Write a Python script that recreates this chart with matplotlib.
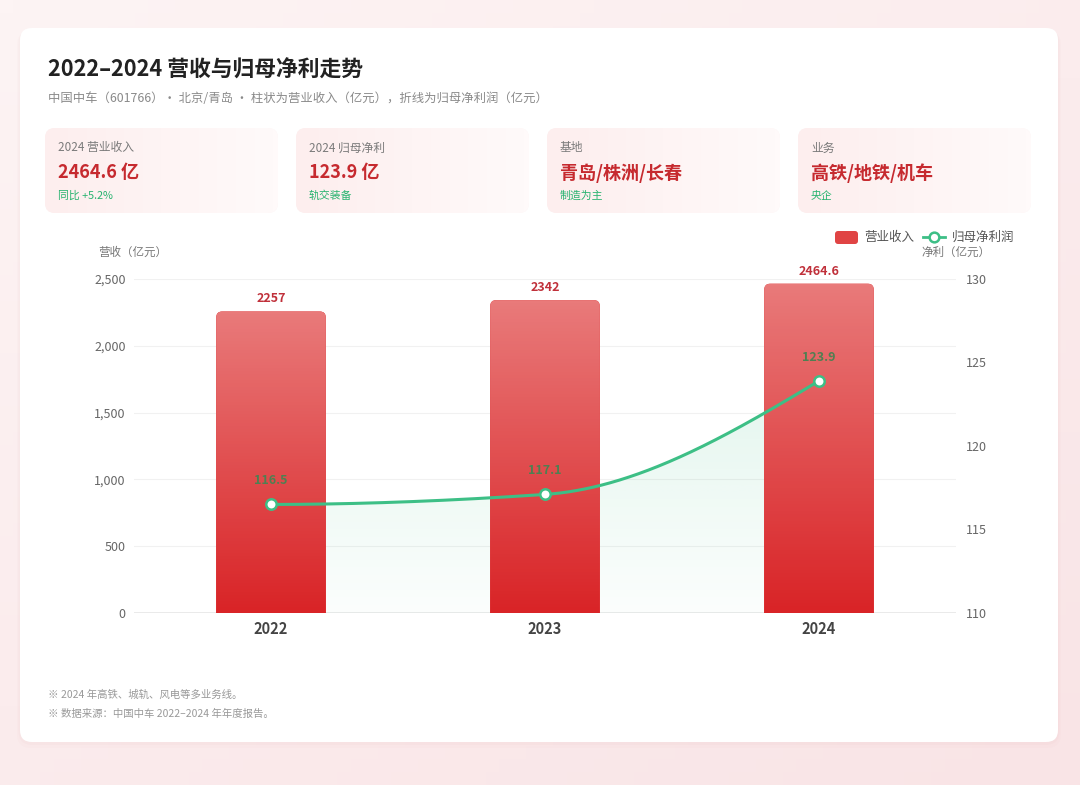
import numpy as np
import matplotlib
matplotlib.use("Agg")
import matplotlib.pyplot as plt
from matplotlib.patches import FancyBboxPatch, Polygon
from matplotlib.lines import Line2D
from matplotlib.colors import LinearSegmentedColormap

plt.rcParams["font.family"] = ["Noto Sans CJK SC", "DejaVu Sans"]

# ---------------------------------------------------------------------------
# Data
# ---------------------------------------------------------------------------
years = ["2022", "2023", "2024"]
revenue = [2257, 2342, 2464.6]          # 营业收入（亿元）
revenue_labels = ["2257", "2342", "2464.6"]
profit = [116.5, 117.1, 123.9]          # 归母净利润（亿元）
profit_labels = ["116.5", "117.1", "123.9"]

left_ticks = [0, 500, 1000, 1500, 2000, 2500]
right_ticks = [110, 115, 120, 125, 130]

card_titles = ["2024 营业收入", "2024 归母净利", "基地", "业务"]
card_values = ["2464.6 亿", "123.9 亿", "青岛/株洲/长春", "高铁/地铁/机车"]
card_notes = ["同比 +5.2%", "轨交装备", "制造为主", "央企"]

TITLE = "2022–2024 营收与归母净利走势"
SUBTITLE = "中国中车（601766）· 北京/青岛 · 柱状为营业收入（亿元），折线为归母净利润（亿元）"
FOOTNOTES = ["※ 2024 年高铁、城轨、风电等多业务线。",
             "※ 数据来源：中国中车 2022–2024 年年度报告。"]

# ---------------------------------------------------------------------------
# Style
# ---------------------------------------------------------------------------
W, H = 1080, 785
RED_TOP = "#e97a7a"
RED_BOT = "#d92427"
RED_TXT = "#c62a2f"
GREEN = "#3dbf86"
GREEN_TXT = "#27b36f"
GREY = "#666666"


def pchip(x, y, n=200):
    """Monotone cubic through the points (rendering of a smooth line)."""
    x = np.asarray(x, float)
    y = np.asarray(y, float)
    h = np.diff(x)
    d = np.diff(y) / h
    m = np.zeros_like(y)
    for k in range(1, len(y) - 1):
        if d[k - 1] * d[k] > 0:
            w1 = 2 * h[k] + h[k - 1]
            w2 = h[k] + 2 * h[k - 1]
            m[k] = (w1 + w2) / (w1 / d[k - 1] + w2 / d[k])

    def end(h0, h1, d0, d1):
        s = ((2 * h0 + h1) * d0 - h0 * d1) / (h0 + h1)
        if np.sign(s) != np.sign(d0):
            return 0.0
        if np.sign(d0) != np.sign(d1) and abs(s) > abs(3 * d0):
            return 3 * d0
        return s

    m[0] = end(h[0], h[1], d[0], d[1])
    m[-1] = end(h[-1], h[-2], d[-1], d[-2])
    xs, ys = [], []
    for k in range(len(h)):
        t = np.linspace(0, 1, n)
        h00 = 2 * t**3 - 3 * t**2 + 1
        h10 = t**3 - 2 * t**2 + t
        h01 = -2 * t**3 + 3 * t**2
        h11 = t**3 - t**2
        xs.append(x[k] + t * h[k])
        ys.append(h00 * y[k] + h10 * h[k] * m[k] + h01 * y[k + 1] + h11 * h[k] * m[k + 1])
    return np.concatenate(xs), np.concatenate(ys)


fig = plt.figure(figsize=(W / 100, H / 100), dpi=100)

# background in pixel coordinates
bg = fig.add_axes([0, 0, 1, 1], zorder=0)
bg.set_xlim(0, W)
bg.set_ylim(H, 0)
bg.axis("off")
gy, gx = np.mgrid[0:1:60j, 0:1:80j]
mix = np.clip(0.55 * gy + 0.45 * gx, 0, 1)[..., None]
c0 = np.array([253, 244, 244]) / 255
c1 = np.array([249, 228, 230]) / 255
bg.imshow(c0 * (1 - mix) + c1 * mix, extent=(0, W, H, 0), aspect="auto", zorder=0)

# main card with soft shadow
for off, a in [(6, 0.025), (3, 0.035)]:
    bg.add_patch(FancyBboxPatch((20 - off / 2, 28 + off / 2), 1038 + off, 714 + off / 2,
                                boxstyle="round,pad=0,rounding_size=14",
                                fc="#d08080", ec="none", alpha=a, zorder=1))
bg.add_patch(FancyBboxPatch((20, 28), 1038, 714, boxstyle="round,pad=0,rounding_size=12",
                            fc="white", ec="none", zorder=2))

fig.text(48 / W, 1 - 70 / H, TITLE, fontsize=15.7, fontweight="bold", color="#222222",
         va="center", ha="left")
fig.text(48 / W, 1 - 99 / H, SUBTITLE, fontsize=8.9, color="#8a8a8a", va="center", ha="left")

# stat cards
card_x = [45, 296, 547, 798]
card_w = 233
card_cmap = LinearSegmentedColormap.from_list("card", ["#fdeeee", "#fffafa"])
for cx, t, v, n in zip(card_x, card_titles, card_values, card_notes):
    p = FancyBboxPatch((cx, 128), card_w, 85, boxstyle="round,pad=0,rounding_size=10",
                       fc="#fef4f4", ec="none", zorder=3)
    bg.add_patch(p)
    im = bg.imshow(np.linspace(0, 1, 50)[None, :], cmap=card_cmap,
                   extent=(cx, cx + card_w, 213, 128), aspect="auto", zorder=3.1)
    im.set_clip_path(p)
    fig.text((cx + 13) / W, 1 - 148 / H, t, fontsize=8.5, color="#7a7a7a", va="center")
    fig.text((cx + 13) / W, 1 - 173 / H, v, fontsize=13, fontweight="bold", color=RED_TXT,
             va="center")
    fig.text((cx + 13) / W, 1 - 196 / H, n, fontsize=7.8, color=GREEN_TXT, va="center")

# legend (drawn in pixel space)
bg.add_patch(FancyBboxPatch((835, 231), 23, 13, boxstyle="round,pad=0,rounding_size=3",
                            fc="#e04444", ec="none", zorder=3))
fig.text(864 / W, 1 - 237 / H, "营业收入", fontsize=9, color="#555555", va="center")
bg.add_line(Line2D([923, 945], [237, 237], color=GREEN, lw=2, zorder=3))
bg.add_line(Line2D([934], [237], marker="o", ms=7, mfc="white", mec=GREEN, mew=1.8, zorder=4))
fig.text(952 / W, 1 - 237 / H, "归母净利润", fontsize=9, color="#555555", va="center")

fig.text(98 / W, 1 - 252 / H, "营收（亿元）", fontsize=8.3, color="#777777", va="center")
fig.text(921 / W, 1 - 252 / H, "净利（亿元）", fontsize=8.3, color="#777777", va="center")

for i, line in enumerate(FOOTNOTES):
    fig.text(48 / W, 1 - (695 + 19 * i) / H, line, fontsize=7.5, color="#999999", va="center")

# ---------------------------------------------------------------------------
# Chart
# ---------------------------------------------------------------------------
ax = fig.add_axes([134 / W, (H - 613) / H, 822 / W, 334 / H], zorder=5)
ax.patch.set_alpha(0)
xpos = np.arange(len(years))
XLIM = (-0.5, len(years) - 0.5)
YLIM = (0, 2500)
Y2LIM = (110, 130)

for s in ax.spines.values():
    s.set_visible(False)
ax.set_yticks(left_ticks)
ax.set_yticklabels([f"{t:,}" for t in left_ticks])
ax.tick_params(axis="y", length=0, pad=6, labelsize=9, labelcolor=GREY)
ax.set_xticks(xpos)
ax.set_xticklabels(years, fontsize=10.5, fontweight="bold", color="#444444")
ax.tick_params(axis="x", length=0, pad=6)
for t in left_ticks[1:]:
    ax.axhline(t, color="#f1f1f1", lw=0.8, zorder=0)
ax.axhline(0, color="#e6e6e6", lw=1.2, zorder=0)

# gradient area under the profit line, drawn below the bars
sx, sy = pchip(xpos, profit)
to_left = lambda v: (np.asarray(v) - Y2LIM[0]) / (Y2LIM[1] - Y2LIM[0]) * (YLIM[1] - YLIM[0])
sy_left = to_left(sy)
poly = Polygon(np.column_stack([np.r_[sx, sx[-1], sx[0]], np.r_[sy_left, 0, 0]]),
               closed=True, fc="none", ec="none")
ax.add_patch(poly)
grad = np.zeros((100, 1, 4))
grad[..., 0:3] = np.array([61, 191, 134]) / 255
grad[:, 0, 3] = np.linspace(0.02, 0.14, 100)
fill = ax.imshow(grad, origin="lower", extent=(sx[0], sx[-1], 0, sy_left.max()),
                 aspect="auto", zorder=1)
fill.set_clip_path(poly)

bar_w = 0.4
px_x = (XLIM[1] - XLIM[0]) / 822
px_y = (YLIM[1] - YLIM[0]) / 334
bar_cmap = LinearSegmentedColormap.from_list("bar", [RED_BOT, RED_TOP])
for x, v, lab in zip(xpos, revenue, revenue_labels):
    patch = FancyBboxPatch((x - bar_w / 2, -200), bar_w, v + 200,
                           boxstyle=f"round,pad=0,rounding_size={6 * px_x}",
                           mutation_aspect=px_y / px_x, fc=RED_BOT, ec="none", zorder=2)
    ax.add_patch(patch)
    im = ax.imshow(np.linspace(0, 1, 100)[:, None], cmap=bar_cmap, origin="lower",
                   extent=(x - bar_w / 2, x + bar_w / 2, 0, v), aspect="auto", zorder=2.1)
    im.set_clip_path(patch)
    ax.annotate(lab, (x, v), xytext=(0, 9), textcoords="offset points", ha="center",
                va="center", fontsize=9, fontweight="bold", color="#c0303a", zorder=6)

ax.set_xlim(*XLIM)
ax.set_ylim(*YLIM)

ax2 = ax.twinx()
ax2.set_zorder(6)
ax2.patch.set_alpha(0)
for s in ax2.spines.values():
    s.set_visible(False)
ax2.set_yticks(right_ticks)
ax2.tick_params(axis="y", length=0, pad=7, labelsize=9, labelcolor=GREY)

ax2.plot(sx, sy, color=GREEN, lw=2.2, zorder=3, solid_capstyle="round")
ax2.plot(xpos, profit, ls="none", marker="o", ms=7.5, mfc="white", mec=GREEN, mew=1.8,
         zorder=4)
for x, v, lab in zip(xpos, profit, profit_labels):
    ax2.annotate(lab, (x, v), xytext=(0, 17), textcoords="offset points", ha="center",
                 va="center", fontsize=9, fontweight="bold", color="#4f7f52", zorder=6)
ax2.set_xlim(*XLIM)
ax2.set_ylim(*Y2LIM)

fig.savefig("out.png", dpi=100)
